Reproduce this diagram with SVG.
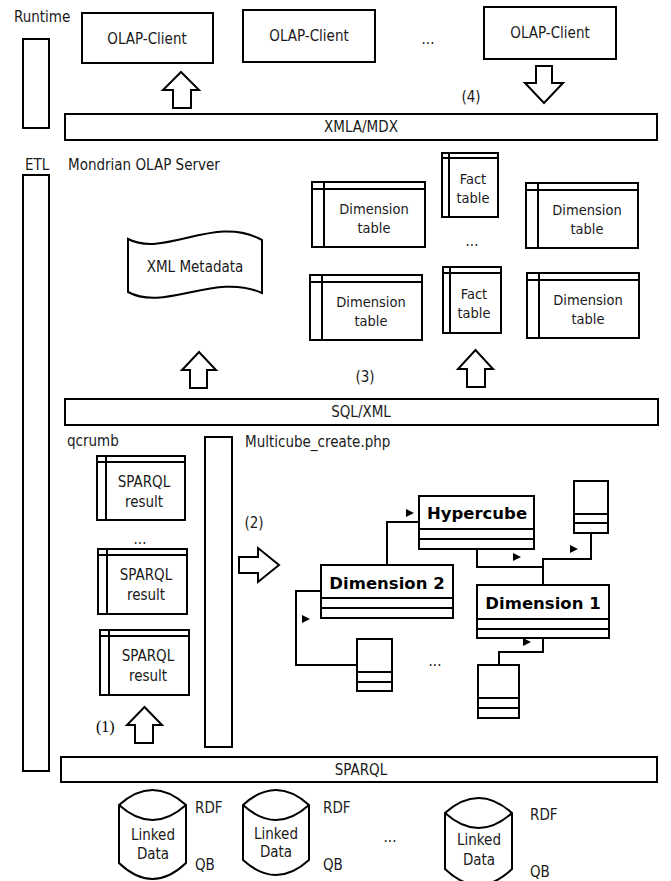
<svg xmlns="http://www.w3.org/2000/svg" width="671" height="881" viewBox="0 0 671 881">
<style>
.s{fill:#fff;stroke:#000;stroke-width:2}
.ln{fill:none;stroke:#000;stroke-width:2}
.t{font-family:"DejaVu Sans Condensed","DejaVu Sans",sans-serif;font-size:15px;fill:#1a1a1a}
.c{text-anchor:middle}
.sm{font-size:14.5px}
.sf{font-family:"Liberation Serif",serif;font-size:16px}
.b{font-family:"DejaVu Sans",sans-serif;font-weight:bold;font-size:16.5px;fill:#000}
.tri{fill:#000}
</style>
<rect width="671" height="881" fill="#fff"/>

<g id="labels">
<text class="t" x="14" y="22">Runtime</text>
<text class="t" x="25" y="170">ETL</text>
<text class="t" x="68" y="170">Mondrian OLAP Server</text>
<text class="t" x="67" y="446">qcrumb</text>
<text class="t" x="245" y="447">Multicube_create.php</text>
<text class="t c" x="428" y="44">...</text>
<text class="t c" x="471" y="102">(4)</text>
<text class="t c" x="472" y="246">...</text>
<text class="t c" x="365" y="382">(3)</text>
<text class="t c" x="140" y="544">...</text>
<text class="t c" x="254" y="528">(2)</text>
<text class="t c" x="435" y="666">...</text>
<text class="sf" x="96" y="732">(1)</text>
<text class="t c" x="390" y="842">...</text>
</g>

<g id="runtime-bar"><rect class="s" x="23" y="39" width="26" height="89"/></g>
<g id="etl-bar"><rect class="s" x="23" y="175" width="26" height="596"/></g>

<g id="client1"><rect class="s" x="82" y="13" width="131" height="50"/><text class="t c" x="147" y="44">OLAP-Client</text></g>
<g id="client2"><rect class="s" x="243" y="10" width="132" height="52"/><text class="t c" x="309" y="41">OLAP-Client</text></g>
<g id="client3"><rect class="s" x="484" y="7" width="132" height="52"/><text class="t c" x="550" y="38">OLAP-Client</text></g>

<g id="xmla"><rect class="s" x="65" y="114" width="592" height="26"/><text class="t c" x="361" y="132">XMLA/MDX</text></g>
<g id="sqlxml"><rect class="s" x="65" y="399" width="593" height="26"/><text class="t c" x="361" y="417">SQL/XML</text></g>
<g id="sparql"><rect class="s" x="61" y="757" width="596" height="25"/><text class="t c" x="361" y="775">SPARQL</text></g>
<g id="multicube-bar"><rect class="s" x="205" y="437" width="27" height="310"/></g>

<g id="xml-metadata">
<path class="s" d="M128,239 C165,258 215,214 262,240 L262,293 C215,272 165,312 128,292 Z"/>
<text class="t c" x="195" y="272">XML Metadata</text>
</g>

<g id="dim-t1"><rect class="s" x="312" y="182" width="113" height="65"/><path class="ln" d="M312,189H425M324,182V247"/><text class="t c sm" x="374" y="214">Dimension</text><text class="t c sm" x="374" y="233">table</text></g>
<g id="fact-t1"><rect class="s" x="442" y="153" width="56" height="64"/><path class="ln" d="M442,158H498M449,153V217"/><text class="t c sm" x="473" y="184">Fact</text><text class="t c sm" x="473" y="203">table</text></g>
<g id="dim-t2"><rect class="s" x="526" y="183" width="112" height="65"/><path class="ln" d="M526,190H638M538,183V248"/><text class="t c sm" x="587" y="215">Dimension</text><text class="t c sm" x="587" y="234">table</text></g>
<g id="dim-t3"><rect class="s" x="310" y="275" width="112" height="65"/><path class="ln" d="M310,282H422M322,275V340"/><text class="t c sm" x="371" y="307">Dimension</text><text class="t c sm" x="371" y="326">table</text></g>
<g id="fact-t2"><rect class="s" x="443" y="267" width="58" height="66"/><path class="ln" d="M443,273H501M450,267V333"/><text class="t c sm" x="474" y="299">Fact</text><text class="t c sm" x="474" y="318">table</text></g>
<g id="dim-t4"><rect class="s" x="527" y="273" width="112" height="65"/><path class="ln" d="M527,280H639M539,273V338"/><text class="t c sm" x="588" y="305">Dimension</text><text class="t c sm" x="588" y="324">table</text></g>

<g id="sr1"><rect class="s" x="97" y="456" width="88" height="64"/><path class="ln" d="M97,462H185M106,456V520"/><text class="t c" x="144" y="487">SPARQL</text><text class="t c" x="144" y="507">result</text></g>
<g id="sr2"><rect class="s" x="98" y="549" width="89" height="65"/><path class="ln" d="M98,555H187M107,549V614"/><text class="t c" x="146" y="580">SPARQL</text><text class="t c" x="146" y="600">result</text></g>
<g id="sr3"><rect class="s" x="100" y="630" width="89" height="65"/><path class="ln" d="M100,636H189M109,630V695"/><text class="t c" x="148" y="661">SPARQL</text><text class="t c" x="148" y="681">result</text></g>

<g id="hypercube"><rect class="s" x="419" y="496" width="115" height="53"/><path class="ln" d="M419,529H534M419,539H534"/><text class="b c" x="477" y="519">Hypercube</text></g>
<g id="dimension2"><rect class="s" x="321" y="565" width="132" height="53"/><path class="ln" d="M321,598H453M321,608H453"/><text class="b c" x="387" y="589">Dimension 2</text></g>
<g id="dimension1"><rect class="s" x="477" y="585" width="132" height="53"/><path class="ln" d="M477,619H609M477,629H609"/><text class="b c" x="543" y="609">Dimension 1</text></g>
<g id="small1"><rect class="s" x="574" y="481" width="34" height="52"/><path class="ln" d="M574,514H608M574,523H608"/></g>
<g id="small2"><rect class="s" x="357" y="639" width="35" height="52"/><path class="ln" d="M357,672H392M357,682H392"/></g>
<g id="small3"><rect class="s" x="478" y="665" width="41" height="53"/><path class="ln" d="M478,698H519M478,708H519"/></g>

<g id="cyl1"><path class="s" d="M119,805 Q152.5,775 186,805 L186,863 Q152.5,895 119,863 Z"/><path class="ln" d="M119,805 Q152.5,835 186,805"/><text class="t c" x="153" y="840">Linked</text><text class="t c" x="153" y="859">Data</text><text class="t" x="195" y="813">RDF</text><text class="t" x="195" y="870">QB</text></g>
<g id="cyl2"><path class="s" d="M243,805 Q276,775 309,805 L309,860 Q276,890 243,860 Z"/><path class="ln" d="M243,805 Q276,835 309,805"/><text class="t c" x="276" y="839">Linked</text><text class="t c" x="276" y="857">Data</text><text class="t" x="323" y="813">RDF</text><text class="t" x="323" y="870">QB</text></g>
<g id="cyl3"><path class="s" d="M445,813 Q478.5,783 512,813 L512,869 Q478.5,901 445,869 Z"/><path class="ln" d="M445,813 Q478.5,843 512,813"/><text class="t c" x="479" y="845">Linked</text><text class="t c" x="479" y="865">Data</text><text class="t" x="530" y="820">RDF</text><text class="t" x="530" y="877">QB</text></g>

<g id="connectors">
<polygon class="s" points="173,108 173,90 163,90 181,72 199,90 191,90 191,108"/>
<polygon class="s" points="536,66 536,83 525,83 544,103 563,83 552,83 552,66"/>
<polygon class="s" points="190,388 190,370 182,370 199,352 216,370 207,370 207,388"/>
<polygon class="s" points="467,387 467,369 458,369 475.5,350 493,369 485,369 485,387"/>
<polygon class="s" points="135,743 135,725 127,725 144.5,707 162,725 153,725 153,743"/>
<polygon class="s" points="239,557 258,557 258,548 279,565 258,582 258,573 239,573"/>
<path class="ln" d="M387,565V522H419"/>
<polygon class="tri" points="406,509 414,513 406,517"/>
<path class="ln" d="M477,549V567H543V585M543,567V559H591V533"/>
<polygon class="tri" points="513,553 521,557 513,561"/>
<polygon class="tri" points="570,545 578,549 570,553"/>
<path class="ln" d="M321,591H296V665H357"/>
<polygon class="tri" points="302,615 310,619 302,623"/>
<path class="ln" d="M543,638V652H499V665"/>
<polygon class="tri" points="523,638 531,642 523,646"/>
</g>
</svg>
